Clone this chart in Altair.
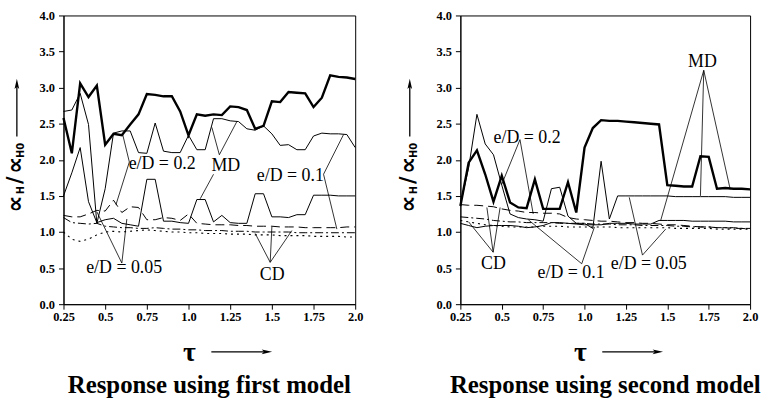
import altair as alt
import pandas as pd

# ---------------- data ----------------
tau = [round(0.25 + 0.05 * i, 2) for i in range(36)]
series_names = ["MD 0.2", "MD 0.1", "MD 0.05", "CD 0.2", "CD 0.1", "CD 0.05"]

first_md_02 = [2.58, 2.09, 3.06, 2.87, 3.03, 2.21, 2.36, 2.34, 2.49, 2.63,
               2.91, 2.90, 2.88, 2.88, 2.67, 2.34, 2.63, 2.61, 2.63, 2.62,
               2.74, 2.73, 2.69, 2.43, 2.47, 2.81, 2.80, 2.94, 2.93, 2.92,
               2.73, 2.86, 3.17, 3.15, 3.14, 3.12]
first_md_01 = [2.67, 2.69, 2.92, 2.49, 1.12, 1.60, 2.37, 2.40, 2.40, 2.10,
               2.09, 2.51, 2.12, 2.10, 2.10, 2.34, 2.14, 2.14, 2.57, 2.57,
               2.54, 2.53, 2.43, 2.41, 2.47, 2.36, 2.20, 2.21, 2.14, 2.14,
               2.33, 2.37, 2.36, 2.36, 2.35, 2.17]
first_md_005 = [1.50, 1.82, 2.17, 1.42, 1.13, 1.17, 1.19, 1.12, 1.10, 1.08,
                1.73, 1.73, 1.15, 1.15, 1.13, 1.12, 1.45, 1.45, 1.14, 1.23,
                1.13, 1.12, 1.12, 1.53, 1.53, 1.21, 1.21, 1.20, 1.24, 1.24,
                1.51, 1.51, 1.51, 1.50, 1.50, 1.50]
first_cd_02 = [1.23, 1.21, 1.21, 1.25, 1.30, 1.29, 1.44, 1.27, 1.35, 1.34,
               1.17, 1.17, 1.20, 1.19, 1.16, 1.25, 1.12, 1.11, 1.10, 1.10,
               1.10, 1.09, 1.09, 1.08, 1.08, 1.08, 1.07, 1.07, 1.07, 1.06,
               1.06, 1.06, 1.06, 1.06, 1.07, 1.07]
first_cd_01 = [1.20, 1.13, 1.12, 1.11, 1.12, 1.08, 1.07, 1.06, 1.06, 1.05,
               1.05, 1.06, 1.05, 1.04, 1.04, 1.03, 1.03, 1.02, 1.02, 1.02,
               1.01, 1.01, 1.01, 1.00, 1.00, 1.00, 1.00, 1.00, 0.99, 0.99,
               0.99, 0.99, 0.99, 0.99, 0.99, 0.99]
first_cd_005 = [1.00, 0.90, 0.87, 0.90, 0.96, 1.00, 1.01, 1.00, 1.01, 1.02,
                1.03, 1.02, 1.01, 1.00, 1.00, 0.99, 0.99, 0.98, 0.98, 0.98,
                0.97, 0.97, 0.97, 0.96, 0.96, 0.96, 0.95, 0.95, 0.95, 0.95,
                0.94, 0.94, 0.94, 0.94, 0.93, 0.93]

second_md_02 = [1.36, 1.96, 2.13, 1.80, 1.42, 1.78, 1.41, 1.34, 1.33, 1.73,
                1.32, 1.32, 1.32, 1.69, 1.27, 2.17, 2.44, 2.55, 2.54, 2.54,
                2.53, 2.52, 2.51, 2.50, 2.49, 1.65, 1.64, 1.63, 1.63, 2.05,
                2.04, 1.60, 1.61, 1.60, 1.60, 1.59]
second_md_01 = [1.38, 1.89, 2.63, 2.22, 2.07, 1.65, 1.25, 1.20, 1.18, 1.17,
                1.15, 1.60, 1.62, 1.22, 1.12, 1.12, 1.05, 1.98, 1.18, 1.50,
                1.50, 1.50, 1.50, 1.50, 1.50, 1.50, 1.49, 1.49, 1.49, 1.49,
                1.49, 1.49, 1.49, 1.48, 1.48, 1.48]
second_md_005 = [1.12, 1.09, 1.06, 1.08, 1.09, 1.09, 1.09, 1.08, 1.06, 1.07,
                 1.09, 1.13, 1.13, 1.12, 1.11, 1.10, 1.10, 1.10, 1.12, 1.12,
                 1.12, 1.11, 1.11, 1.11, 1.16, 1.16, 1.16, 1.16, 1.15, 1.15,
                 1.15, 1.15, 1.15, 1.14, 1.14, 1.14]
second_cd_02 = [1.38, 1.37, 1.37, 1.36, 1.35, 1.32, 1.30, 1.29, 1.27, 1.27,
                1.26, 1.26, 1.25, 1.20, 1.18, 1.17, 1.16, 1.15, 1.15, 1.14,
                1.13, 1.13, 1.12, 1.12, 1.11, 1.10, 1.10, 1.09, 1.08, 1.07,
                1.07, 1.06, 1.06, 1.05, 1.05, 1.04]
second_cd_01 = [1.21, 1.20, 1.19, 1.18, 1.16, 1.15, 1.14, 1.14, 1.13, 1.13,
                1.13, 1.13, 1.12, 1.12, 1.12, 1.12, 1.11, 1.11, 1.11, 1.10,
                1.10, 1.10, 1.09, 1.09, 1.09, 1.09, 1.08, 1.08, 1.07, 1.07,
                1.07, 1.06, 1.06, 1.06, 1.05, 1.05]
second_cd_005 = [1.16, 1.14, 1.12, 1.10, 1.09, 1.08, 1.07, 1.07, 1.07, 1.07,
                 1.08, 1.08, 1.08, 1.07, 1.07, 1.07, 1.07, 1.07, 1.07, 1.06,
                 1.06, 1.06, 1.06, 1.06, 1.06, 1.06, 1.05, 1.05, 1.05, 1.05,
                 1.05, 1.04, 1.04, 1.04, 1.04, 1.04]

x_ticks = [0.25, 0.5, 0.75, 1.0, 1.25, 1.5, 1.75, 2.0]
y_ticks = [0.0, 0.5, 1.0, 1.5, 2.0, 2.5, 3.0, 3.5, 4.0]

# annotations (data coordinates)
first_labels = ["e/D = 0.2", "MD", "e/D = 0.1", "e/D = 0.05", "CD"]
first_label_t = [0.842, 1.224, 1.611, 0.614, 1.502]
first_label_v = [1.935, 1.915, 1.78, 0.495, 0.40]
first_lead_t1 = [0.645, 0.645, 1.185, 1.185, 1.15, 1.81, 1.81, 0.60, 0.60, 1.49, 1.49, 1.49]
first_lead_v1 = [1.97, 1.97, 2.07, 2.07, 1.80, 1.80, 1.80, 0.57, 0.57, 0.58, 0.58, 0.58]
first_lead_t2 = [0.605, 0.565, 1.14, 1.29, 1.07, 1.93, 1.89, 0.45, 0.63, 1.40, 1.50, 1.62]
first_lead_v2 = [2.35, 1.38, 2.45, 2.53, 1.46, 2.35, 1.04, 1.28, 1.18, 0.98, 1.07, 1.02]

second_labels = ["e/D = 0.2", "MD", "CD", "e/D = 0.1", "e/D = 0.05"]
second_label_t = [0.653, 1.712, 0.45, 0.919, 1.388]
second_label_v = [2.30, 3.36, 0.56, 0.425, 0.56]
second_lead_t1 = [0.61, 0.61, 1.72, 1.72, 1.72, 0.448, 0.448, 0.448, 0.983, 0.983, 1.35, 1.35]
second_lead_v1 = [2.28, 2.28, 3.24, 3.24, 3.24, 0.72, 0.72, 0.72, 0.56, 0.56, 0.68, 0.68]
second_lead_t2 = [0.50, 0.69, 1.46, 1.70, 1.88, 0.30, 0.41, 0.49, 0.66, 1.06, 1.27, 1.49]
second_lead_v2 = [1.66, 1.25, 1.16, 1.50, 1.59, 1.14, 1.34, 1.34, 1.17, 1.07, 1.48, 1.04]

# line styles per series (dash pattern, width)
styles = {
    "MD 0.2": ([1, 0], 2.4),
    "MD 0.1": ([1, 0], 1.0),
    "MD 0.05": ([1, 0], 1.0),
    "CD 0.2": ([9, 5], 1.0),
    "CD 0.1": ([8, 3, 2, 3], 1.0),
    "CD 0.05": ([2, 4], 1.1),
}

W1, W2, H = 294, 292, 291
SERIF = "Liberation Serif"

x_scale = alt.Scale(domain=[0.25, 2.0], nice=False, zero=False)
y_scale = alt.Scale(domain=[0, 4], nice=False, zero=True)
x_axis = alt.Axis(values=x_ticks, title=None, tickSize=5, labelPadding=1,
                  labelOverlap=False, labelFlush=False,
                  labelExpr="datum.value % 0.5 == 0 ? format(datum.value, '.1f') : format(datum.value, '.2f')")
y_axis = alt.Axis(values=y_ticks, format=".1f", title=None, tickSize=5, labelPadding=4)

XE = alt.X("t:Q", scale=x_scale, axis=x_axis)
YE = alt.Y("v:Q", scale=y_scale, axis=y_axis)

ARROW_RIGHT = "M1,0L-1,-0.45L-0.55,0L-1,0.45Z"
ARROW_UP = "M0,-1L-0.45,1L0,0.55L0.45,1Z"

dummy = pd.DataFrame({"d": [0]})


def txt(s, px, py, size, font=SERIF, weight="bold", angle=0):
    kw = dict(text=s, fontSize=size, font=font, fontWeight=weight,
              align="center", baseline="middle", color="black")
    if angle:
        kw["angle"] = angle
    return alt.Chart(dummy).mark_text(**kw).encode(x=alt.value(px), y=alt.value(py))


def panel(vals, labels, lt, lv, t1, v1, t2, v2, width, title, ytx, taux, a_left, a_right):
    layers = []
    for name, arr in zip(series_names, vals):
        dash, sw = styles[name]
        df = pd.DataFrame({"t": tau, "v": arr})
        kw = dict(color="black", strokeWidth=sw, strokeJoin="miter")
        if dash != [1, 0]:
            kw["strokeDash"] = dash
        layers.append(alt.Chart(df).mark_line(**kw).encode(x=XE, y=YE))

    lead_df = pd.DataFrame({"t": t1, "v": v1, "t2": t2, "v2": v2})
    layers.append(alt.Chart(lead_df).mark_rule(color="black", strokeWidth=0.8).encode(
        x=XE, y=YE, x2="t2:Q", y2="v2:Q"))

    lab_df = pd.DataFrame({"t": lt, "v": lv, "label": labels})
    layers.append(alt.Chart(lab_df).mark_text(font=SERIF, fontSize=18, color="black",
                                              align="center", baseline="middle").encode(
        x=XE, y=YE, text="label:N"))

    layers += [
        # y axis title pieces (rotated, reading upward)
        txt("\u221d", ytx, 190, 24, font="DejaVu Sans", angle=270),
        txt("H", ytx + 5, 176, 10, font="DejaVu Sans", angle=270),
        txt("/", ytx, 166, 21, font="DejaVu Sans", angle=270),
        txt("\u221d", ytx, 151, 24, font="DejaVu Sans", angle=270),
        txt("H0", ytx + 5, 136, 10, font="DejaVu Sans", angle=270),
        alt.Chart(dummy).mark_rule(color="black", strokeWidth=1.3).encode(
            x=alt.value(ytx + 1), y=alt.value(122), y2=alt.value(70)),
        alt.Chart(dummy).mark_point(shape=ARROW_UP, filled=True, size=110,
                                    color="black", opacity=1).encode(
            x=alt.value(ytx + 1), y=alt.value(69)),
        # x axis title
        txt("\u03c4", taux, 340, 28),
        alt.Chart(dummy).mark_rule(color="black", strokeWidth=1.3).encode(
            x=alt.value(taux + 22), x2=alt.value(taux + 78), y=alt.value(339)),
        alt.Chart(dummy).mark_point(shape=ARROW_RIGHT, filled=True, size=110,
                                    color="black", opacity=1).encode(
            x=alt.value(taux + 78), y=alt.value(339)),
        # panel caption
        txt(title, width / 2, 373, 25),
        # layout anchor (invisible)
        alt.Chart(dummy).mark_rule(opacity=0).encode(
            x=alt.value(a_left), x2=alt.value(a_right), y=alt.value(-13)),
    ]
    return alt.layer(*layers).properties(width=width, height=H)


left = panel([first_md_02, first_md_01, first_md_005, first_cd_02, first_cd_01, first_cd_005],
             first_labels, first_label_t, first_label_v,
             first_lead_t1, first_lead_v1, first_lead_t2, first_lead_v2,
             W1, "Response using first model", -48, 127, -63, 310)
right = panel([second_md_02, second_md_01, second_md_005, second_cd_02, second_cd_01, second_cd_005],
              second_labels, second_label_t, second_label_v,
              second_lead_t1, second_lead_v1, second_lead_t2, second_lead_v2,
              W2, "Response using second model", -52, 121, -88, 301)

chart = alt.hconcat(left, right, spacing=0).properties(
    padding={"left": 0, "top": 0, "right": 0, "bottom": 0},
    background="white",
).configure_view(stroke="black", strokeWidth=1).configure_axis(
    grid=False, domainColor="black", tickColor="black", labelColor="black",
    labelFont=SERIF, labelFontWeight="bold", labelFontSize=12.5,
    domainWidth=1, tickWidth=1,
)

chart.save("out.html", embed_options={"renderer": "svg", "actions": False})
